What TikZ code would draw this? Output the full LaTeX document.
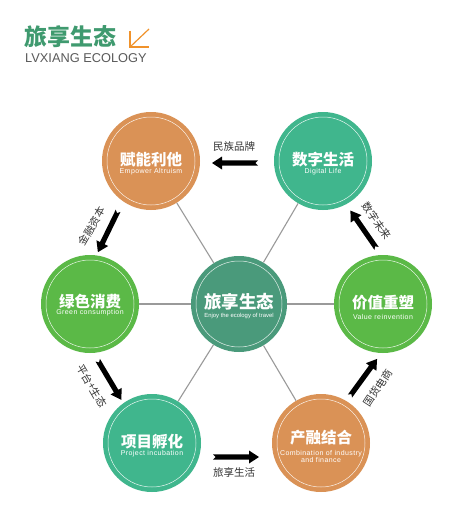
\documentclass[tikz,border=0pt]{standalone}
\usepackage{fontspec}
\setmainfont{Liberation Sans}
\newfontfamily\cjk{Noto Sans CJK SC}
\newfontfamily\subfnt[LetterSpace=6]{Liberation Sans}
\usetikzlibrary{calc}
\definecolor{orangec}{HTML}{DA9256}
\definecolor{tealc}{HTML}{40B68D}
\definecolor{greenc}{HTML}{5BB947}
\definecolor{centrec}{HTML}{4A9A7B}
\definecolor{titlegreen}{HTML}{3F9A6F}
\definecolor{greytext}{HTML}{5A5A5A}
\definecolor{spokec}{HTML}{9A9A9A}
\definecolor{iconorange}{HTML}{F0922B}
\begin{document}
\begin{tikzpicture}[x=1pt,y=-1pt,
  hexc/.style={circle,minimum size=98pt,inner sep=0pt,fill=#1},
  ring/.style={draw=white,line width=0.5pt,opacity=0.85},
  ttl/.style={text=white,inner sep=0pt,font=\cjk\bfseries\fontsize{15.5}{16}\selectfont},
  sub/.style={text=white,inner sep=0pt,align=center,font=\subfnt\fontsize{7}{8}\selectfont},
  lbl/.style={text=black!80,inner sep=0pt,font=\cjk\fontsize{10.5}{11}\selectfont},
  spoke/.style={draw=spokec,line width=1.1pt},
  fatarrow/.pic={\fill[black] (-23,2.6) -- (13,2.6) -- (13,6.5) -- (23,0) -- (13,-6.5) -- (13,-2.6) -- (-23,-2.6) -- (-20.5,0) -- cycle;}
]
\useasboundingbox (0,0) rectangle (449,519);
\fill[white] (0,0) rectangle (449,519);

% heading
\node[anchor=west,inner sep=0pt,text=titlegreen,font=\cjk\bfseries\fontsize{23}{24}\selectfont] (head) at (24,37) {旅享生态};
\node[anchor=west,inner sep=0pt,text=greytext,font=\fontsize{12.8}{13}\selectfont] (headen) at (25,58) {LVXIANG ECOLOGY};
\draw[iconorange,line width=1.2pt] (149,29) -- (130,47);
\draw[iconorange,line width=1.2pt] (130,31) -- (130,47) -- (149,47);

% circles
\node[hexc=orangec] (emp) at (151,161) {};
\node[hexc=tealc]   (dig) at (323,161) {};
\node[hexc=greenc]  (grn) at (90,304) {};
\node[hexc=centrec,minimum size=96pt] (cen) at (239,304) {};
\node[hexc=greenc]  (val) at (383,304) {};
\node[hexc=tealc]   (prj) at (152,443) {};
\node[hexc=orangec] (com) at (321,443) {};

% spokes
\foreach \n in {emp,dig,grn,val,prj,com} \draw[spoke] (cen) -- (\n);

% rings
\foreach \n in {emp,dig,grn,val,prj,com} \draw[ring] (\n.center) circle (44);
\draw[ring] (cen.center) circle (43);

% titles
\node[ttl] (emp-t) at ($(emp)+(0,-1)$) {赋能利他};
\node[sub] (emp-s) at ($(emp)+(0,11)$) {Empower Altruism};
\node[ttl] (dig-t) at ($(dig)+(0,-1)$) {数字生活};
\node[sub] (dig-s) at ($(dig)+(0,11)$) {Digital Life};
\node[ttl] (grn-t) at ($(grn)+(0,-2)$) {绿色消费};
\node[sub] (grn-s) at ($(grn)+(0,9)$) {Green consumption};
\node[ttl,font=\cjk\bfseries\fontsize{17.5}{18}\selectfont] (cen-t) at ($(cen)+(0,-2)$) {旅享生态};
\node[sub,font=\fontsize{5.9}{6.5}\selectfont] (cen-s) at ($(cen)+(0,12)$) {Enjoy the ecology of travel};
\node[ttl] (val-t) at ($(val)+(0,-1)$) {价值重塑};
\node[sub] (val-s) at ($(val)+(0,13)$) {Value reinvention};
\node[ttl] (prj-t) at ($(prj)+(0,-1)$) {项目孵化};
\node[sub] (prj-s) at ($(prj)+(0,11)$) {Project incubation};
\node[ttl] (com-t) at ($(com)+(0,-5)$) {产融结合};
\node[sub,font=\subfnt\fontsize{7}{7.4}\selectfont] (com-s) at ($(com)+(0,13.5)$) {Combination of industry\\and finance};

% arrows
\coordinate (t1) at (258,163); \coordinate (h1) at (212,163);
\coordinate (t2) at (118,211); \coordinate (h2) at (98,252);
\coordinate (t3) at (97,359);  \coordinate (h3) at (122,401);
\coordinate (t4) at (212,457); \coordinate (h4) at (260,457);
\coordinate (t5) at (350,396); \coordinate (h5) at (377,359);
\coordinate (t6) at (377,249); \coordinate (h6) at (350,210);
\foreach \i in {1,...,6}{
  \path let \p1=($(h\i)-(t\i)$), \n1={atan2(\y1,\x1)} in ($(t\i)!0.5!(h\i)$) pic[rotate=\n1] {fatarrow};
}

% arrow labels
\node[lbl] (l1) at (234,147) {民族品牌};
\node[lbl,rotate=60] (l2) at (92,226) {金融资本};
\node[lbl,rotate=-60] (l3) at (92,386) {平台+生态};
\node[lbl] (l4) at (234,472) {旅享生活};
\node[lbl,rotate=57] (l5) at (378,388) {国货电商};
\node[lbl,rotate=-56] (l6) at (377,221) {数字未来};
\end{tikzpicture}
\end{document}
